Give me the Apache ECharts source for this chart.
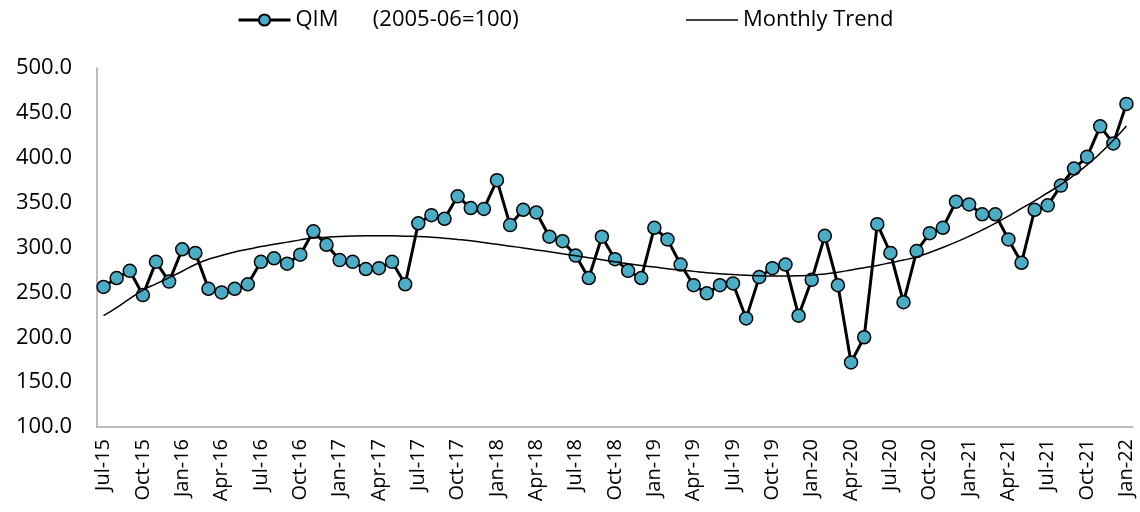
<!DOCTYPE html>
<html>
<head>
<meta charset="utf-8">
<script src="https://cdn.jsdelivr.net/npm/echarts@6/dist/echarts.min.js"></script>
<style>html,body{margin:0;padding:0;background:#fff}#c{width:1140px;height:512px}</style>
</head>
<body>
<div id="c"></div>
<script>
const categories = ['Jul-15','Aug-15','Sep-15','Oct-15','Nov-15','Dec-15',
'Jan-16','Feb-16','Mar-16','Apr-16','May-16','Jun-16','Jul-16','Aug-16','Sep-16','Oct-16','Nov-16','Dec-16',
'Jan-17','Feb-17','Mar-17','Apr-17','May-17','Jun-17','Jul-17','Aug-17','Sep-17','Oct-17','Nov-17','Dec-17',
'Jan-18','Feb-18','Mar-18','Apr-18','May-18','Jun-18','Jul-18','Aug-18','Sep-18','Oct-18','Nov-18','Dec-18',
'Jan-19','Feb-19','Mar-19','Apr-19','May-19','Jun-19','Jul-19','Aug-19','Sep-19','Oct-19','Nov-19','Dec-19',
'Jan-20','Feb-20','Mar-20','Apr-20','May-20','Jun-20','Jul-20','Aug-20','Sep-20','Oct-20','Nov-20','Dec-20',
'Jan-21','Feb-21','Mar-21','Apr-21','May-21','Jun-21','Jul-21','Aug-21','Sep-21','Oct-21','Nov-21','Dec-21',
'Jan-22'];

const qim = [256,266,274,247,284,262,
298,294,254,250,254,259,284,288,282,292,318,303,
286,284,276,277,284,259,327,336,332,357,344,343,
375,325,342,339,312,307,291,266,312,287,274,266,
322,309,281,258,249,258,260,221,267,277,281,224,
264,313,258,172,200,326,294,239,296,316,322,351,
348,337,337,309,283,342,347,369,388,401,435,416,
460];

const trend = [224,233,243,252.5,259.5,266.5,
273.5,281,287,291,295,298,301,303.5,306,308.5,310.5,311.5,
312.3,312.8,313,313,313,312.6,312.3,311.5,310.3,309,307.5,305.5,
303.5,301.5,299.5,297.3,295.2,293,290.8,288.5,286.3,284,282,280,
278.2,276.4,274.8,273.4,272,270.8,269.8,269,268.5,268.2,268.2,268.5,
269.2,270.5,272.5,275,277.5,280,283,286,289.5,294.5,300,306,
312.5,319.5,327,335,343.5,352,361,370,380.5,392,405,419.5,
435.5];

const yTicks = {min:100, max:500, interval:50};
const seriesNames = ['QIM      (2005-06=100)', 'Monthly Trend'];

const chart = echarts.init(document.getElementById('c'), null, {renderer:'canvas'});
const font = 'Open Sans';
chart.setOption({
  animation: false,
  backgroundColor: '#fff',
  grid: {left: 97, right: 7, top: 68, bottom: 85, containLabel: false},
  legend: [
    {data:[seriesNames[0]], left: 232, top: 4, itemWidth: 52, itemHeight: 14, itemGap: 0,
     lineStyle:{width:3},
     textStyle:{fontFamily:font, fontSize:22, color:'#000'}},
    {data:[{name: seriesNames[1], icon:'rect'}], left: 681, top: 4, itemWidth: 52, itemHeight: 1.5, itemGap: 0,
     textStyle:{fontFamily:font, fontSize:22, color:'#000'}}
  ],
  xAxis: {
    type: 'category',
    data: categories,
    boundaryGap: true,
    axisLine: {lineStyle:{color:'#a6a6a6', width:1.5}},
    axisTick: {show:false},
    axisLabel: {interval: 2, rotate: 90, margin: 12, fontFamily: font, fontSize: 20, color:'#000'},
    splitLine: {show:false}
  },
  yAxis: {
    type: 'value',
    min: yTicks.min, max: yTicks.max, interval: yTicks.interval,
    axisLine: {show:true, lineStyle:{color:'#a6a6a6', width:1.5}},
    axisTick: {show:false},
    splitLine: {show:false},
    axisLabel: {margin: 25, fontFamily: font, fontSize: 22, color:'#000',
      formatter: v => v.toFixed(1)}
  },
  series: [
    {name: seriesNames[0], type:'line', data: qim,
     symbol:'circle', symbolSize: 13, showAllSymbol: true,
     lineStyle:{color:'#000', width:3},
     itemStyle:{color:'#4BACC6', borderColor:'#000', borderWidth:1.5},
     z: 2},
    {name: seriesNames[1], type:'line', data: trend,
     smooth: true, symbol:'none', showSymbol:false,
     lineStyle:{color:'#000', width:1.5},
     itemStyle:{color:'#000'},
     z: 3}
  ]
});
</script>
</body>
</html>
